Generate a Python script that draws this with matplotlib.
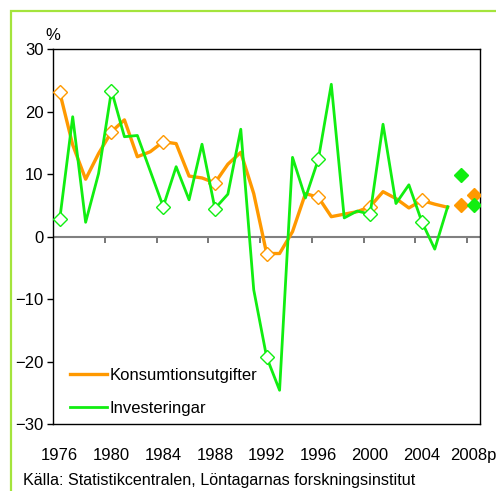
import matplotlib
matplotlib.use("Agg")
import matplotlib.pyplot as plt
from matplotlib.patches import Rectangle
from matplotlib.lines import Line2D

plt.rcParams['font.family'] = ['Liberation Sans', 'DejaVu Sans']
plt.rcParams['font.size'] = 12

years = list(range(1976, 2009))
year_labels = ['1976', '1980', '1984', '1988', '1992', '1996', '2000', '2004', '2008p']
konsumtion = [23.1, 14.7, 9.2, 13.3, 16.8, 18.7, 12.8, 13.6, 15.2, 14.9,
              9.7, 9.4, 8.6, 11.6, 13.5, 6.9, -2.7, -2.7, 0.8, 6.9,
              6.3, 3.2, 3.6, 4.0, 4.8, 7.2, 6.1, 4.6, 5.8, 5.2, 4.7]
investeringar = [2.8, 19.2, 2.3, 10.1, 23.4, 16.0, 16.2, 10.5, 4.8, 11.2,
                 5.9, 14.8, 4.5, 6.8, 17.2, -8.5, -19.3, -24.6, 12.7, 6.2,
                 12.4, 24.4, 3.0, 4.1, 3.6, 18.0, 5.3, 8.3, 2.4, -2.0, 4.8]
konsumtion_prognos = [5.1, 6.7]
investeringar_prognos = [9.9, 5.1]

orange = '#FF9900'
green = '#11EE11'

fig = plt.figure(figsize=(4.96, 4.91), dpi=100)
ax = fig.add_axes([53.3 / 496, 1 - 424 / 491, 426.7 / 496, 374.7 / 491])

x_hist = list(range(len(konsumtion)))
x_prog = [len(konsumtion), len(konsumtion) + 1]

ax.axhline(0, color='#808080', lw=1.5, zorder=1)

ax.plot(x_hist, konsumtion, color=orange, lw=2.4, marker='D', markevery=4,
        markersize=7, markerfacecolor='white', markeredgecolor=orange,
        markeredgewidth=1.0, zorder=3)
ax.plot(x_hist, investeringar, color=green, lw=2.0, marker='D', markevery=4,
        markersize=7, markerfacecolor='white', markeredgecolor=green,
        markeredgewidth=1.0, zorder=4)
ax.plot(x_prog, konsumtion_prognos, ls='none', marker='D', markersize=7,
        color=orange, zorder=3)
ax.plot(x_prog, investeringar_prognos, ls='none', marker='D', markersize=7,
        color=green, zorder=4)

ax.set_xlim(-0.5, len(years) - 0.5)
ax.set_ylim(-30, 30)
ax.set_yticks(range(-30, 31, 10))
ax.tick_params(axis='y', direction='out', length=4, width=1, pad=3)
ax.set_xticks(range(0, len(years), 4))
ax.set_xticklabels(year_labels)
ax.tick_params(axis='x', length=0, pad=17)
for s in ax.spines.values():
    s.set_linewidth(1.0)
    s.set_color('black')

# tick marks sitting on the zero line
sec = ax.secondary_xaxis(0, transform=ax.transData)
sec.set_xticks([i + 3.5 for i in range(0, len(years) - 1, 4)])
sec.tick_params(axis='x', direction='out', length=4, width=1.2,
                color='#606060', labelbottom=False, labeltop=False)
sec.spines['bottom'].set_visible(False)
sec.spines['top'].set_visible(False)

handles = [Line2D([], [], color=orange, lw=2.4),
           Line2D([], [], color=green, lw=2.0)]
ax.legend(handles, ['Konsumtionsutgifter', 'Investeringar'], loc='center left',
          bbox_to_anchor=(0.039, 0.086), frameon=False, fontsize=12,
          handlelength=2.2, handletextpad=0.2, borderpad=0,
          borderaxespad=0, labelspacing=1.05)

fig.text(53 / 496, 1 - 35 / 491, '%', ha='center', va='center', fontsize=12)
fig.text(23 / 496, 1 - 480 / 491,
         'Källa: Statistikcentralen, Löntagarnas forskningsinstitut',
         ha='left', va='center', fontsize=11.6)

fig.add_artist(Rectangle((11 / 496, -0.1), 1.0, 1.1 - 11 / 491,
                         transform=fig.transFigure, fill=False,
                         edgecolor='#A4E43C', lw=1.6))

fig.savefig('out.png', dpi=100)
